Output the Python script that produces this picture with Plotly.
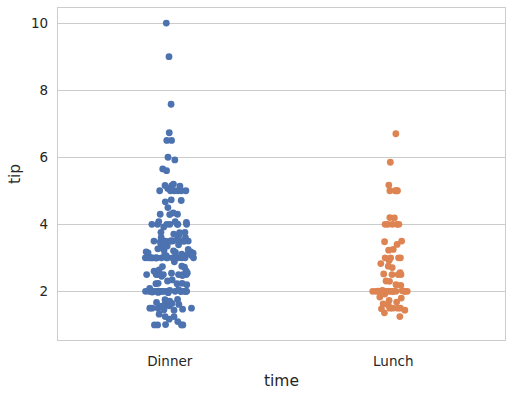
import plotly.graph_objects as go

categories = ["Dinner", "Lunch"]

dinner_tips = [
    1.01, 1.66, 3.50, 3.31, 3.61, 4.71, 2.00, 3.12, 1.96, 3.23, 1.71, 5.00, 1.57, 3.00, 3.02, 3.92,
    1.67, 3.71, 3.50, 3.35, 4.08, 2.75, 2.23, 7.58, 3.18, 2.34, 2.00, 2.00, 4.30, 3.00, 1.45, 2.50,
    3.00, 2.45, 3.27, 3.60, 2.00, 3.07, 2.31, 5.00, 2.24, 2.54, 3.06, 1.32, 5.60, 3.00, 5.00, 6.00,
    2.05, 3.00, 2.50, 2.60, 5.20, 1.56, 4.34, 3.51, 3.00, 1.50, 1.76, 6.73, 3.21, 2.00, 1.98, 3.76,
    2.64, 3.15, 2.47, 1.00, 2.01, 2.09, 1.97, 3.00, 3.14, 5.00, 2.20, 1.25, 3.08,
    3.00, 3.50, 1.00, 4.30, 3.25, 4.73, 4.00, 1.50, 3.00, 1.50, 2.50, 3.00, 2.50, 3.48, 4.08, 1.64,
    4.06, 4.29, 3.76, 4.00, 3.00, 1.00, 4.00, 2.55, 4.00, 3.50, 5.07,
    2.50, 2.00, 2.74, 2.00, 2.00, 5.14, 5.00, 3.75, 2.61, 2.00, 3.50, 2.50, 2.00, 2.00, 3.00, 3.48,
    2.24, 4.50, 1.61, 2.00, 10.00, 3.16, 5.15, 3.18, 4.00, 3.11, 2.00, 2.00, 4.00, 3.55, 3.68, 5.65,
    3.50, 6.50, 3.00, 5.00, 3.50, 2.00, 3.50, 4.00, 1.50,
    3.41, 3.00, 2.03, 2.23, 2.00, 5.16, 9.00, 2.50, 6.50, 1.10, 3.00, 1.50, 1.44, 3.09,
    3.00, 2.72, 2.88, 2.00, 3.00, 3.39, 1.47, 3.00, 1.25, 1.00, 1.17, 4.67, 5.92, 2.00, 2.00, 1.75,
    3.00,
]

lunch_tips = [
    4.00, 3.00, 2.71, 3.00, 3.40, 1.83, 5.00, 2.03, 5.17, 2.00, 4.00, 5.85, 3.00,
    1.50, 1.80, 2.92, 2.31, 1.68, 2.50, 2.00, 2.52, 4.20, 1.48, 2.00, 2.00, 2.18, 1.50, 2.83, 1.50,
    2.00, 3.25, 1.25, 2.00, 2.00, 2.00, 2.75, 3.50, 6.70, 5.00, 5.00, 2.30, 1.50, 1.36, 1.63, 1.73,
    2.00,
    4.19, 2.56, 2.02, 4.00, 1.44, 2.00, 5.00, 2.00, 2.00, 4.00, 2.01, 2.00, 2.50, 4.00, 3.23,
    2.20, 3.48, 1.92, 3.00, 1.58, 2.50, 2.00,
]

y_ticks = [2, 4, 6, 8, 10]
colors = ["#4c72b0", "#dd8452"]

fig = go.Figure()
for cat, vals, col in zip(categories, [dinner_tips, lunch_tips], colors):
    fig.add_trace(go.Box(
        x=[cat] * len(vals),
        y=vals,
        name=cat,
        boxpoints="all",
        jitter=1,
        pointpos=0,
        width=0.22,
        fillcolor="rgba(0,0,0,0)",
        line=dict(color="rgba(0,0,0,0)", width=0),
        marker=dict(color=col, size=6.8, line=dict(width=0)),
        showlegend=False,
        hoveron="points",
    ))

font_family = "DejaVu Sans"
fig.update_layout(
    width=513,
    height=396,
    margin=dict(l=58, r=8, t=8, b=56, autoexpand=False),
    paper_bgcolor="white",
    plot_bgcolor="white",
    font=dict(family=font_family, color="#262626", size=14),
    xaxis=dict(
        type="category",
        categoryorder="array",
        categoryarray=categories,
        range=[-0.5, 1.5],
        automargin=False,
        showgrid=False,
        showline=True,
        mirror=True,
        linecolor="#cccccc",
        linewidth=1.25,
        ticks="",
        ticklabelstandoff=9,
        tickfont=dict(size=13.5, color="#262626"),
        title=dict(text="time", font=dict(size=15.5, color="#262626"), standoff=6),
        zeroline=False,
    ),
    yaxis=dict(
        range=[0.55, 10.45],
        tickvals=y_ticks,
        ticktext=[str(t) for t in y_ticks],
        automargin=False,
        showgrid=True,
        gridcolor="#cccccc",
        gridwidth=1,
        showline=True,
        mirror=True,
        linecolor="#cccccc",
        linewidth=1.25,
        ticks="",
        ticklabelstandoff=6,
        tickfont=dict(size=13.5, color="#262626"),
        title=dict(text="tip", font=dict(size=15.5, color="#262626"), standoff=6),
        zeroline=False,
    ),
)

fig.write_html(
    "out.html",
    config={"responsive": False, "displayModeBar": False},
    post_script="document.body.style.margin='0';document.body.style.padding='0';document.body.style.overflow='hidden';",
)
